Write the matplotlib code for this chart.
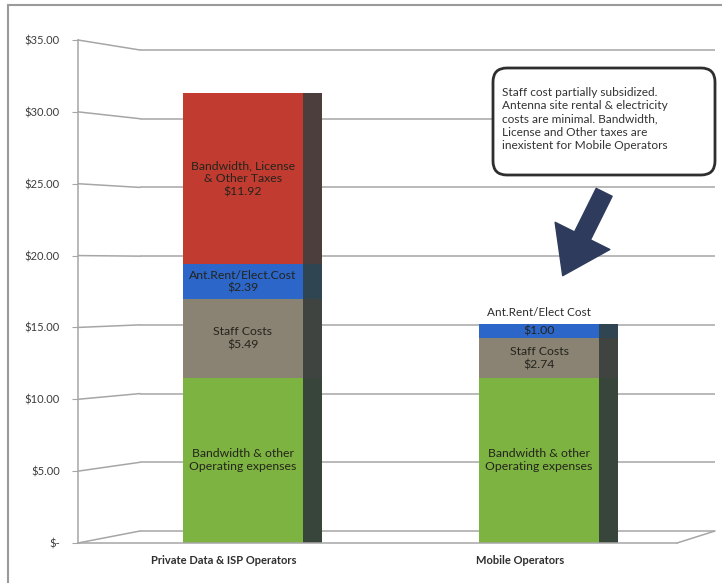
import matplotlib
matplotlib.use('Agg')
import matplotlib.pyplot as plt
import matplotlib.patches as mpatches
from matplotlib.transforms import ScaledTranslation
import numpy as np

plt.rcParams['font.family'] = ['Lato', 'DejaVu Sans']

# data
categories = ['Private Data & ISP Operators', 'Mobile Operators']
opex = [11.5, 11.5]          # Bandwidth & other operating expenses
staff = [5.49, 2.74]         # Staff costs
ant_rent = [2.39, 1.00]      # Antenna rent / electricity
bw_taxes = [11.92, 0.0]      # Bandwidth, license & other taxes
y_ticks = [0, 5, 10, 15, 20, 25, 30, 35]
y_labels = ['$-', '$5.00', '$10.00', '$15.00', '$20.00', '$25.00', '$30.00', '$35.00']
note = ('Staff cost partially subsidized.\n'
        'Antenna site rental & electricity\n'
        'costs are minimal. Bandwidth,\n'
        'License and Other taxes are\n'
        'inexistent for Mobile Operators')

W, H = 722, 583
fig = plt.figure(figsize=(W / 100, H / 100), dpi=100)


def box(x0, y0, x1, y1):
    # pixel box (top-left origin) -> figure fraction rect
    return [x0 / W, 1 - y1 / H, (x1 - x0) / W, (y1 - y0) / H]


grid_c = '#a6a6a6'

# back wall
ax_back = fig.add_axes(box(140, 50, 715, 531))
ax_back.set_xlim(0, 1)
ax_back.set_ylim(0, 35)
ax_back.hlines(y_ticks, 0, 1, color=grid_c, lw=1.1, clip_on=False)
ax_back.axis('off')

# front plane (bars, axis)
ax = fig.add_axes(box(78, 40, 677, 543))
ax.set_xlim(-0.557, 1.466)
ax.set_ylim(0, 35)
ax.patch.set_alpha(0)
for s in ['top', 'right']:
    ax.spines[s].set_visible(False)
ax.spines['left'].set_color(grid_c)
ax.spines['bottom'].set_color(grid_c)
ax.spines['left'].set_linewidth(1.1)
ax.spines['bottom'].set_linewidth(1.1)
ax.set_xticks([])
ax.set_yticks(y_ticks)
ax.set_yticklabels(y_labels, fontsize=8, color='#3c3c3c')
ax.tick_params(axis='y', length=4, color=grid_c, pad=9)

# left wall / floor edges
for v in y_ticks:
    fig.add_artist(mpatches.ConnectionPatch((-0.557, v), (0, v), 'data', 'data',
                                            axesA=ax, axesB=ax_back,
                                            color=grid_c, lw=1.1))
fig.add_artist(mpatches.ConnectionPatch((1.466, 0), (1, 0), 'data', 'data',
                                        axesA=ax, axesB=ax_back,
                                        color=grid_c, lw=1.1))

x = np.arange(len(categories))
w = 0.405
sd = 0.063
segs = [opex, staff, ant_rent, bw_taxes]
front_cols = ['#7db340', '#8a8272', '#2c66c9', '#c13b30']
side_cols = ['#37453a', '#3f4440', '#2f4652', '#4b3e3c']
bottom = np.zeros(len(categories))
for vals, fc, sc in zip(segs, front_cols, side_cols):
    vals = np.array(vals)
    ax.bar(x, vals, w, bottom=bottom, color=fc, linewidth=0)
    ax.bar(x + w / 2 + sd / 2, vals, sd, bottom=bottom, color=sc, linewidth=0)
    bottom = bottom + vals

# segment labels
tc = '#24241c'
kw = dict(ha='center', va='center', fontsize=8.8, color=tc, linespacing=1.25)
for i in range(len(categories)):
    b = 0.0
    ax.text(x[i], b + opex[i] / 2, 'Bandwidth & other\nOperating expenses', **kw)
    b += opex[i]
    ax.text(x[i], b + staff[i] / 2, 'Staff Costs\n$%.2f' % staff[i], **kw)
    b += staff[i]
    if i == 0:
        ax.text(x[i], b + ant_rent[i] / 2, 'Ant.Rent/Elect.Cost\n$%.2f' % ant_rent[i], **kw)
    else:
        ax.text(x[i], b + ant_rent[i] / 2, '$%.2f' % ant_rent[i], **kw)
        ax.text(x[i], b + ant_rent[i] + 0.8, 'Ant.Rent/Elect Cost', ha='center',
                va='center', fontsize=8.5, color='#2e2e2e')
    b += ant_rent[i]
    if bw_taxes[i] > 0:
        ax.text(x[i], b + bw_taxes[i] / 2,
                'Bandwidth, License\n& Other Taxes\n$%.2f' % bw_taxes[i], **kw)

# category labels
off = ScaledTranslation(-0.19, -0.17, fig.dpi_scale_trans)
for i, c in enumerate(categories):
    ax.text(x[i], 0, c, transform=ax.transData + off, ha='center', va='center',
            fontsize=8, fontweight='bold', color='#2e2e2e')

# note box
fig.add_artist(mpatches.FancyBboxPatch((493 / W, 1 - 175 / H), 222 / W, 107 / H,
                                       boxstyle='round,pad=0,rounding_size=%f' % (14 / W),
                                       mutation_aspect=W / H, transform=fig.transFigure,
                                       facecolor='white', edgecolor='#2e2e2e', lw=2))
fig.text(502 / W, 1 - 87 / H, note, ha='left', va='top', fontsize=8.6,
         color='#333333', linespacing=1.25)

# arrow pointing to mobile bar
ax.add_patch(mpatches.FancyArrowPatch((1.22, 24.4), (1.08, 18.6),
                                      arrowstyle=mpatches.ArrowStyle.Simple(
                                          head_length=0.8, head_width=1.1, tail_width=0.32),
                                      mutation_scale=40, color='#2f3b5c',
                                      shrinkA=0, shrinkB=0, clip_on=False))

# outer frame
fig.add_artist(mpatches.Rectangle((8 / W, -0.05), 1.1, 1 - 5 / H + 0.05,
                                  transform=fig.transFigure, fill=False,
                                  edgecolor='#9a9a9a', lw=1.5))

fig.savefig('out.png', dpi=100, facecolor='white')
